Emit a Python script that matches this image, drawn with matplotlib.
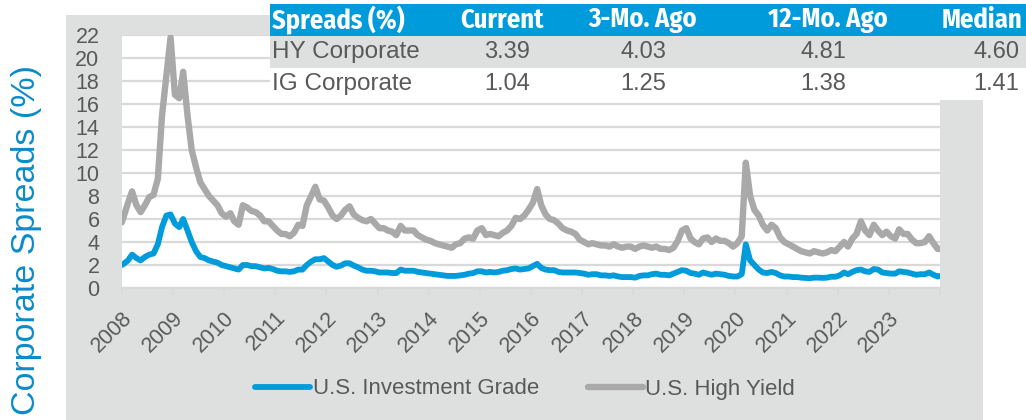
import matplotlib
matplotlib.use("Agg")
import matplotlib.pyplot as plt
from matplotlib.patches import Rectangle
import pandas as pd

# monthly spreads (%), mid-month, 2008-01 .. 2023-12
hy = [
    6.2, 7.4, 8.4, 7.2, 6.6, 7.2, 7.9, 8.1, 9.5, 15.0, 18.5, 21.8,   # 2008
    16.8, 16.5, 18.8, 15.0, 12.0, 10.5, 9.2, 8.6, 8.0, 7.6, 7.2, 6.5,  # 2009
    6.2, 6.5, 5.8, 5.5, 7.2, 7.0, 6.7, 6.6, 6.3, 5.8, 5.8, 5.4,      # 2010
    5.0, 4.7, 4.7, 4.5, 4.8, 5.5, 5.4, 7.2, 8.0, 8.8, 7.7, 7.6,      # 2011
    7.0, 6.3, 6.0, 6.3, 6.8, 7.1, 6.4, 6.1, 5.9, 5.8, 6.0, 5.6,      # 2012
    5.2, 5.2, 5.0, 4.9, 4.6, 5.4, 5.0, 5.0, 5.0, 4.6, 4.4, 4.2,      # 2013
    4.1, 3.9, 3.8, 3.7, 3.6, 3.5, 3.8, 3.9, 4.3, 4.4, 4.3, 5.0,      # 2014
    5.2, 4.6, 4.7, 4.6, 4.5, 4.8, 5.0, 5.4, 6.1, 6.0, 6.3, 6.8,      # 2015
    7.4, 8.6, 7.2, 6.4, 6.0, 5.9, 5.6, 5.2, 5.0, 4.9, 4.7, 4.2,      # 2016
    4.0, 3.8, 3.9, 3.8, 3.7, 3.7, 3.6, 3.8, 3.6, 3.5, 3.6, 3.6,      # 2017
    3.4, 3.6, 3.7, 3.6, 3.5, 3.6, 3.4, 3.4, 3.3, 3.5, 4.1, 5.0,      # 2018
    5.2, 4.3, 4.0, 3.8, 4.3, 4.4, 4.0, 4.3, 4.1, 4.1, 3.9, 3.6,      # 2019
    3.9, 4.5, 10.9, 8.0, 6.8, 6.3, 5.5, 5.0, 5.5, 5.2, 4.4, 4.0,     # 2020
    3.8, 3.6, 3.4, 3.2, 3.1, 3.0, 3.2, 3.1, 3.0, 3.1, 3.3, 3.2,      # 2021
    3.6, 4.0, 3.6, 4.3, 4.7, 5.8, 5.0, 4.6, 5.5, 5.0, 4.6, 4.9,      # 2022
    4.5, 4.3, 5.1, 4.7, 4.7, 4.2, 3.9, 3.9, 4.0, 4.5, 3.9, 3.4,      # 2023
]
ig = [
    2.1, 2.4, 2.9, 2.6, 2.4, 2.7, 2.9, 3.0, 3.8, 5.3, 6.3, 6.4,
    5.6, 5.3, 6.0, 5.0, 4.0, 3.2, 2.7, 2.6, 2.4, 2.3, 2.2, 2.0,
    1.9, 1.8, 1.7, 1.6, 2.0, 2.0, 1.9, 1.9, 1.8, 1.7, 1.75, 1.65,
    1.5, 1.45, 1.45, 1.4, 1.45, 1.6, 1.6, 2.0, 2.3, 2.5, 2.5, 2.6,
    2.3, 2.0, 1.85, 1.95, 2.15, 2.15, 1.95, 1.8, 1.6, 1.5, 1.5, 1.45,
    1.35, 1.35, 1.35, 1.3, 1.3, 1.6, 1.5, 1.5, 1.5, 1.4, 1.35, 1.3,
    1.25, 1.2, 1.15, 1.1, 1.05, 1.05, 1.05, 1.1, 1.15, 1.25, 1.3, 1.45,
    1.45, 1.35, 1.4, 1.35, 1.4, 1.5, 1.55, 1.65, 1.7, 1.6, 1.65, 1.7,
    1.9, 2.1, 1.75, 1.6, 1.55, 1.55, 1.4, 1.35, 1.35, 1.35, 1.35, 1.3,
    1.25, 1.15, 1.2, 1.2, 1.1, 1.1, 1.05, 1.1, 1.0, 0.95, 0.95, 0.95,
    0.9, 1.05, 1.1, 1.1, 1.2, 1.25, 1.15, 1.15, 1.1, 1.25, 1.4, 1.55,
    1.5, 1.3, 1.25, 1.15, 1.35, 1.25, 1.15, 1.25, 1.2, 1.15, 1.05, 1.0,
    1.0, 1.2, 3.8, 2.4, 2.0, 1.6, 1.35, 1.3, 1.4, 1.3, 1.1, 1.0,
    1.0, 0.95, 0.95, 0.9, 0.88, 0.85, 0.9, 0.9, 0.88, 0.9, 0.98, 0.98,
    1.1, 1.35, 1.2, 1.4, 1.55, 1.6, 1.45, 1.4, 1.65, 1.6, 1.35, 1.3,
    1.25, 1.25, 1.45, 1.4, 1.35, 1.25, 1.15, 1.2, 1.2, 1.35, 1.15, 1.0,
]
edge_dates = ["2008-01-01", "2023-12-29"]
edge_hy = [5.7, 3.39]
edge_ig = [2.0, 1.04]

table_cols = ["Spreads (%)", "Current", "3-Mo. Ago", "12-Mo. Ago", "Median"]
table_rows = ["HY Corporate", "IG Corporate"]
table_vals = [["3.39", "4.03", "4.81", "4.60"],
              ["1.04", "1.25", "1.38", "1.41"]]
years = list(range(2008, 2024))

BLUE = "#009BDB"
GRAY_LINE = "#A9A9A9"
PANEL = "#DEE0DF"
GRID = "#D9D9D9"
TXT = "#595959"
W, H = 1026, 420
FONT = ["Liberation Sans", "DejaVu Sans"]
HDR = ["Fira Sans Condensed", "DejaVu Sans"]

months = pd.date_range("2008-01-01", periods=len(hy), freq="MS") + pd.Timedelta(days=14)
s_hy = pd.concat([pd.Series(hy, index=months), pd.Series(edge_hy, index=pd.to_datetime(edge_dates))]).sort_index()
s_ig = pd.concat([pd.Series(ig, index=months), pd.Series(edge_ig, index=pd.to_datetime(edge_dates))]).sort_index()


def fx(x):
    return x / W


def fy(y):
    return 1 - y / H


fig = plt.figure(figsize=(W / 100, H / 100), dpi=100)
fig.patch.set_facecolor("white")
fig.patches.append(Rectangle((fx(66), 0), fx(983 - 66), fy(15), transform=fig.transFigure,
                             facecolor=PANEL, edgecolor="none", zorder=-10))

ax = fig.add_axes([fx(121.7), fy(288), fx(940 - 121.7), fy(35) - fy(288)])
ax.set_zorder(1)
ax.set_facecolor("white")
ax.plot(s_hy.index, s_hy.values, color=GRAY_LINE, lw=4.6, solid_capstyle="round",
        solid_joinstyle="round", label="U.S. High Yield", zorder=3)
ax.plot(s_ig.index, s_ig.values, color=BLUE, lw=4.2, solid_capstyle="round",
        solid_joinstyle="round", label="U.S. Investment Grade", zorder=4)

ax.set_ylim(0, 22)
ax.set_yticks(range(0, 23, 2))
ax.set_xlim(pd.Timestamp("2008-01-01"), pd.Timestamp("2024-01-01"))
ax.set_xticks([pd.Timestamp(f"{y}-01-01") for y in years + [2024]])
ax.set_xticklabels([str(y) for y in years] + [""])
ax.grid(axis="y", color=GRID, lw=1.6, zorder=0)
ax.set_axisbelow(True)
for side in ["top", "right", "left"]:
    ax.spines[side].set_visible(False)
ax.spines["bottom"].set_color(GRID)
ax.spines["bottom"].set_linewidth(1.6)
ax.tick_params(axis="y", length=0, pad=16, labelsize=15.5, labelcolor=TXT)
ax.tick_params(axis="x", length=5, width=1.2, color=GRID, pad=9, labelsize=15.5, labelcolor=TXT)
for lab in ax.get_xticklabels():
    lab.set_rotation(45)
    lab.set_ha("right")
    lab.set_va("top")
    lab.set_rotation_mode("anchor")
for lab in ax.get_xticklabels() + ax.get_yticklabels():
    lab.set_family(FONT)

fig.text(fx(27), fy(240), "Corporate Spreads (%)", rotation=90, ha="center", va="center",
         fontsize=24.5, color="#0B8BC9", family=FONT)

handles, labels = ax.get_legend_handles_labels()
leg = fig.legend(handles[::-1], labels[::-1], loc="center", bbox_to_anchor=(fx(525), fy(389)),
                 ncol=2, frameon=False, handlelength=2.5, handletextpad=0.1, columnspacing=2.2,
                 prop={"family": FONT, "size": 16})
for t in leg.get_texts():
    t.set_color(TXT)

# summary table, top right
fig.patches.append(Rectangle((fx(270), fy(36)), fx(W - 270), fy(4) - fy(36), transform=fig.transFigure,
                             facecolor=BLUE, edgecolor="none", zorder=5))
fig.patches.append(Rectangle((fx(270), fy(68)), fx(W - 270), fy(36) - fy(68), transform=fig.transFigure,
                             facecolor=PANEL, edgecolor="none", zorder=5))
fig.patches.append(Rectangle((fx(270), fy(100)), fx(W - 270), fy(68) - fy(100), transform=fig.transFigure,
                             facecolor="white", edgecolor="none", zorder=5))
col_right = [530, 666, 846, 1019]
hdr_right = [544, 697, 888, 1022]
hdr_font = {"family": HDR, "weight": "bold", "size": 19}
fig.text(fx(272), fy(20), table_cols[0], ha="left", va="center", color="white",
         fontdict=hdr_font, zorder=6)
for name, xr in zip(table_cols[1:], hdr_right):
    fig.text(fx(xr), fy(20), name, ha="right", va="center", color="white",
             fontdict=hdr_font, zorder=6)
for r, (row, vals) in enumerate(zip(table_rows, table_vals)):
    yc = 52 + 32 * r
    fig.text(fx(272), fy(yc), row, ha="left", va="center", color=TXT, fontsize=17.5,
             family=FONT, zorder=6)
    for v, xr in zip(vals, col_right):
        fig.text(fx(xr), fy(yc), v, ha="right", va="center", color=TXT, fontsize=17,
                 family=FONT, zorder=6)

fig.savefig("out.png", dpi=100, facecolor=fig.get_facecolor())
